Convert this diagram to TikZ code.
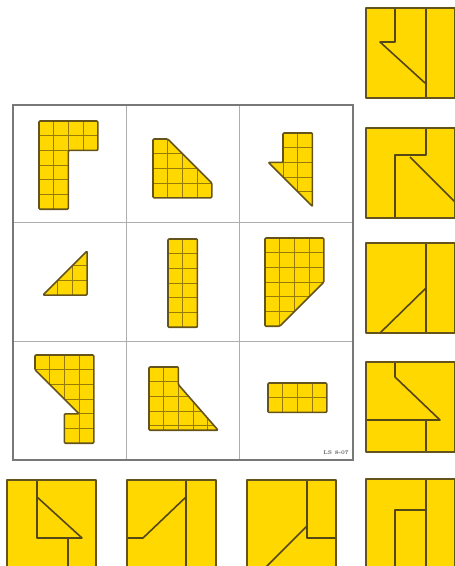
\documentclass[tikz,border=0pt]{standalone}
\usepackage{xcolor}
\usepackage{tikz}
\definecolor{facefill}{RGB}{255,216,0}
\definecolor{facerim}{RGB}{100,84,28}
\definecolor{cellline}{RGB}{150,122,10}
\definecolor{framegray}{RGB}{120,120,120}

% a grid piece: #1 origin (px), #2 outline (grid units)
\newcommand{\piece}[2]{%
  \begin{scope}[shift={#1}, x=14.7pt, y=-14.7pt]
    \fill[facefill, rounded corners=1pt] #2;
    \begin{scope}
      \clip #2;
      \foreach \k in {0,...,7} {
        \draw[cellgrid] (\k,-1) -- (\k,8);
        \draw[cellgrid] (-1,\k) -- (8,\k);
      }
    \end{scope}
    \draw[piecerim] #2;
  \end{scope}}

% a view square: #1 top-left corner (px), #2 its fold lines
\newcommand{\view}[2]{%
  \begin{scope}[shift={#1}]
    \fill[facefill] (0,0) rectangle (89,90);
    #2
    \draw[viewrim] (0,0) rectangle (89,90);
  \end{scope}}

\begin{document}
\begin{tikzpicture}[
  x=1pt, y=-1pt,
  cellgrid/.style={draw=cellline, line width=0.8pt},
  piecerim/.style={draw=facerim, line width=1.6pt, line join=round, rounded corners=1pt},
  viewrim/.style={draw=facerim, line width=1.5pt, line join=round},
  crease/.style={draw=facerim!85!black, line width=1.6pt, line join=round},
  outer/.style={draw=framegray, line width=1.5pt},
  inner/.style={draw=framegray!60, line width=0.9pt}
]
  \useasboundingbox (0,0) rectangle (455,566);
  \clip (0,0) rectangle (455,566);

  % the 3x3 board
  \draw[inner] (126,105) -- (126,460);
  \draw[inner] (239,105) -- (239,460);
  \draw[inner] (13,222) -- (353,222);
  \draw[inner] (13,341) -- (353,341);
  \draw[outer] (13,105) rectangle (353,460);

  \piece{(39,121)}{(0,0) -- (4,0) -- (4,2) -- (2,2) -- (2,6) -- (0,6) -- cycle}
  \piece{(153,139)}{(0,0) -- (1,0) -- (4,3) -- (4,4) -- (0,4) -- cycle}
  \piece{(268.3,133)}{(1,0) -- (3,0) -- (3,5) -- (0,2) -- (1,2) -- cycle}
  \piece{(43,251)}{(0,3) -- (3,3) -- (3,0) -- cycle}
  \piece{(168,239)}{(0,0) rectangle (2,6)}
  \piece{(265,238)}{(0,0) -- (4,0) -- (4,3) -- (1,6) -- (0,6) -- cycle}
  \piece{(35,355)}{(0,0) -- (4,0) -- (4,6) -- (2,6) -- (2,4) -- (3,4) -- (0,1) -- cycle}
  \piece{(149,367)}{(0,0) -- (2,0) -- (2,1.2) -- (4.7,4.3) -- (0,4.3) -- cycle}
  \piece{(268,383)}{(0,0) rectangle (4,2)}

  \node[anchor=east, text=framegray!80!black, font=\fontsize{5.5}{6}\selectfont\bfseries, inner sep=0pt] (tag) at (349,453) {LS 8-07};

  % right column of views
  \view{(366,8)}{%
    \draw[crease] (29,0) -- (29,34) -- (14,34) -- (59,75);
    \draw[crease] (60,0) -- (60,90);}
  \view{(366,128)}{%
    \draw[crease] (60,0) -- (60,27) -- (29,27) -- (29,90);
    \draw[crease] (44,29) -- (89,74);}
  \view{(366,243)}{%
    \draw[crease] (60,0) -- (60,90);
    \draw[crease] (14,90) -- (60,45);}
  \view{(366,362)}{%
    \draw[crease] (29,0) -- (29,15) -- (74,58) -- (0,58);
    \draw[crease] (60,58) -- (60,90);}
  \view{(366,479)}{%
    \draw[crease] (60,0) -- (60,90);
    \draw[crease] (60,31) -- (29,31) -- (29,90);}

  % bottom row of views
  \view{(7,480)}{%
    \draw[crease] (30,0) -- (30,58) -- (75,58) -- (30,17);
    \draw[crease] (61,58) -- (61,90);}
  \view{(127,480)}{%
    \draw[crease] (59,0) -- (59,90);
    \draw[crease] (59,17) -- (16,58) -- (0,58);}
  \view{(247,480)}{%
    \draw[crease] (60,0) -- (60,58) -- (89,58);
    \draw[crease] (60,46) -- (16,90);}
\end{tikzpicture}
\end{document}
